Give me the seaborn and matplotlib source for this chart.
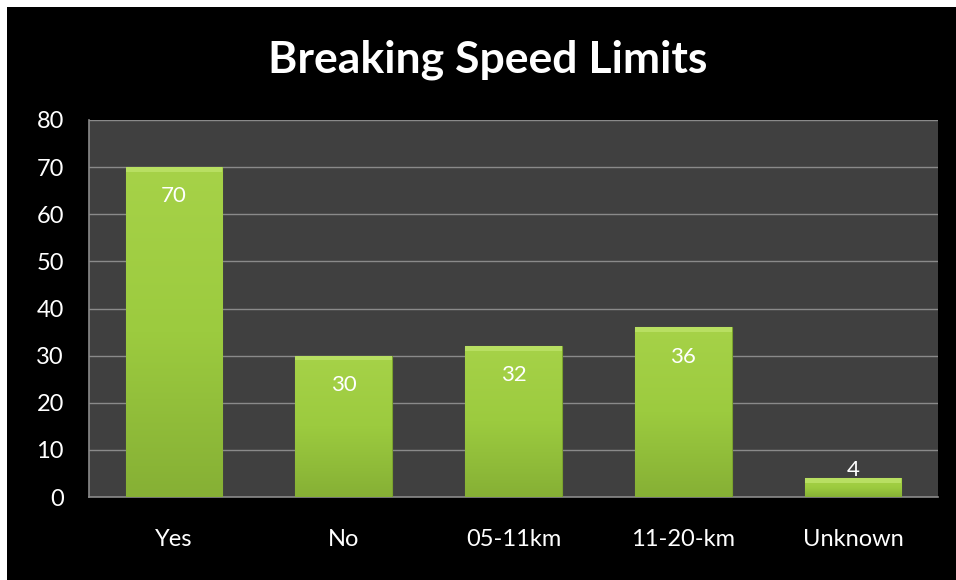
import numpy as np
import pandas as pd
import matplotlib
matplotlib.use("Agg")
import matplotlib.pyplot as plt
from matplotlib.patches import Rectangle
import seaborn as sns

# chart data
categories = ["Yes", "No", "05-11km", "11-20-km", "Unknown"]
counts = [70, 30, 32, 36, 4]
y_ticks = [0, 10, 20, 30, 40, 50, 60, 70, 80]
title = "Breaking Speed Limits"

df = pd.DataFrame({"answer": categories, "count": counts})

sns.set_style("dark")
plt.rcParams["font.family"] = ["Lato", "DejaVu Sans"]

fig = plt.figure(figsize=(9.56, 5.8), dpi=100)
fig.patch.set_facecolor("white")
# black background with thin white margin on top/left
fig.patches.append(Rectangle((7 / 956, 0), 1, 1 - 7 / 580, transform=fig.transFigure,
                             facecolor="black", edgecolor="none", zorder=-10))

ax = fig.add_axes([89 / 956, 1 - 497 / 580, (938 - 89) / 956, (497 - 120) / 580])
ax.set_facecolor("#404040")

sns.barplot(data=df, x="answer", y="count", color="#9cc93e", width=0.57,
            saturation=1, ax=ax, zorder=3)

# gradient / bevel look for each bar
grad = np.linspace(0, 1, 256).reshape(-1, 1)
cmap = matplotlib.colors.LinearSegmentedColormap.from_list(
    "g", ["#86b035", "#9ccb3f", "#a6d248"])
for p in ax.patches:
    x0, y0 = p.get_x(), p.get_y()
    w, h = p.get_width(), p.get_height()
    im = ax.imshow(grad, cmap=cmap, aspect="auto", extent=[x0, x0 + w, y0, y0 + h],
                   origin="lower", zorder=4)
    im.set_clip_path(p)
    # light top bevel
    ax.add_patch(Rectangle((x0, y0 + h), w, -min(1.0, h * 0.25), facecolor="#b8df62",
                           edgecolor="none", zorder=5))
    p.set_edgecolor("#7aa22e")
    p.set_linewidth(0.8)

for i, v in enumerate(counts):
    if v > 10:
        ax.annotate(str(v), (i, v), xytext=(0, -21), textcoords="offset points",
                    ha="center", va="center", color="white", fontsize=16, zorder=6)
    else:
        ax.annotate(str(v), (i, v), xytext=(0, 6), textcoords="offset points",
                    ha="center", va="center", color="white", fontsize=16, zorder=6)

ax.set_xlim(-0.5, len(categories) - 0.5)
ax.set_ylim(0, 80)
ax.set_yticks(y_ticks)
ax.yaxis.grid(True, color="#8a8a8a", linewidth=1, zorder=1)
ax.xaxis.grid(False)
ax.set_axisbelow(True)
ax.tick_params(axis="both", length=0, colors="white", labelsize=17)
ax.tick_params(axis="y", pad=18)
ax.tick_params(axis="x", pad=23)
ax.set_xlabel("")
ax.set_ylabel("")
for side in ["top", "right"]:
    ax.spines[side].set_visible(False)
for side in ["left", "bottom"]:
    ax.spines[side].set_visible(True)
    ax.spines[side].set_color("#8a8a8a")
    ax.spines[side].set_linewidth(1.2)

fig.text(488 / 956, 1 - 60 / 580, title, ha="center", va="center",
         color="white", fontsize=32, fontweight="bold")

fig.savefig("out.png", dpi=100, facecolor=fig.get_facecolor())
